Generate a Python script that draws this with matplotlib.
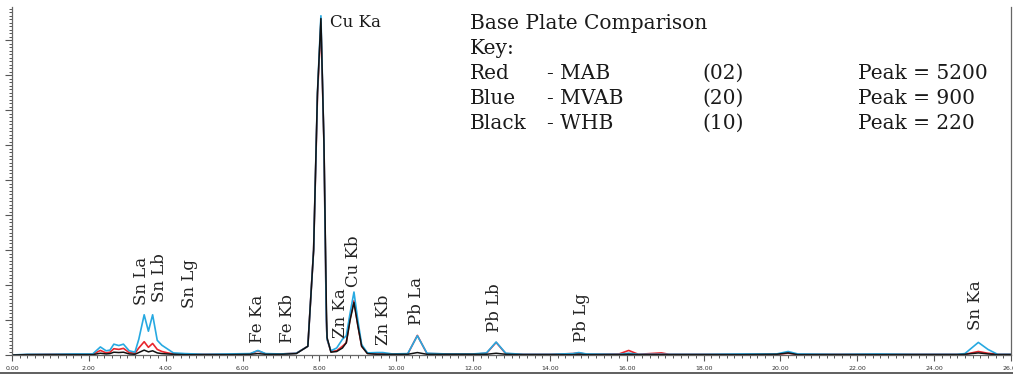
import matplotlib.pyplot as plt
from matplotlib.lines import Line2D
from matplotlib.ticker import MultipleLocator, FormatStrFormatter


OUTPUT_PATH = "out.png"

# energy (keV) sampled where the traces change
energy_kev = [
    0.0, 0.4, 1.0, 1.6, 2.1, 2.3, 2.45, 2.55, 2.65, 2.78, 2.9, 3.05, 3.2, 3.3,
    3.44, 3.55, 3.66, 3.78, 3.9, 4.05, 4.2, 4.5, 5.0, 5.6, 6.2, 6.4, 6.6, 7.0,
    7.4, 7.7, 7.85, 7.95, 8.04, 8.12, 8.18, 8.2, 8.3, 8.45, 8.6, 8.7, 8.8, 8.9,
    9.0, 9.1, 9.25, 9.5, 9.65, 9.9, 10.3, 10.55, 10.8, 11.3, 12.0, 12.35, 12.6,
    12.85, 13.3, 14.0, 14.6, 14.75, 14.95, 15.8, 16.05, 16.3, 16.9, 17.1, 18.0,
    19.0, 19.9, 20.2, 20.45, 21.5, 22.5, 23.5, 24.6, 24.8, 25.15, 25.4, 25.65,
    26.0,
]

# normalised intensities (one unit = one major y tick)
blue_mvab = [
    0.0, 0.02, 0.02, 0.03, 0.03, 0.23, 0.12, 0.14, 0.31, 0.27, 0.31, 0.12, 0.08, 0.45,
    1.15, 0.68, 1.15, 0.42, 0.28, 0.17, 0.06, 0.04, 0.02, 0.03, 0.04, 0.13, 0.04, 0.03,
    0.05, 0.25, 3.0, 7.5, 9.7, 6.0, 1.0, 0.45, 0.12, 0.2, 0.45, 0.55, 1.2, 1.8,
    1.0, 0.3, 0.06, 0.07, 0.07, 0.03, 0.04, 0.55, 0.05, 0.03, 0.03, 0.06, 0.37,
    0.05, 0.02, 0.02, 0.04, 0.07, 0.03, 0.02, 0.05, 0.02, 0.02, 0.02, 0.02,
    0.03, 0.03, 0.1, 0.03, 0.02, 0.03, 0.02, 0.02, 0.04, 0.36, 0.16, 0.02,
    0.02,
]

red_mab = [
    0.0, 0.01, 0.02, 0.02, 0.02, 0.13, 0.06, 0.08, 0.18, 0.16, 0.19, 0.07, 0.05, 0.2,
    0.38, 0.22, 0.33, 0.16, 0.1, 0.06, 0.03, 0.02, 0.02, 0.02, 0.03, 0.12, 0.03, 0.03,
    0.05, 0.25, 3.0, 7.4, 9.5, 6.0, 1.0, 0.45, 0.1, 0.12, 0.25, 0.35, 1.05, 1.55,
    0.85, 0.25, 0.05, 0.03, 0.03, 0.02, 0.03, 0.56, 0.04, 0.03, 0.02, 0.05, 0.36,
    0.04, 0.02, 0.02, 0.04, 0.06, 0.02, 0.03, 0.13, 0.02, 0.06, 0.02, 0.02,
    0.02, 0.02, 0.05, 0.02, 0.02, 0.02, 0.02, 0.02, 0.02, 0.1, 0.05, 0.02,
    0.02,
]

black_whb = [
    0.0, 0.01, 0.01, 0.01, 0.01, 0.05, 0.03, 0.04, 0.08, 0.07, 0.08, 0.03, 0.02, 0.07,
    0.14, 0.09, 0.12, 0.06, 0.04, 0.03, 0.02, 0.01, 0.01, 0.01, 0.02, 0.04, 0.02, 0.02,
    0.04, 0.25, 3.0, 7.5, 9.62, 6.0, 1.5, 0.5, 0.08, 0.1, 0.2, 0.35, 1.0, 1.5,
    0.85, 0.25, 0.04, 0.02, 0.02, 0.02, 0.02, 0.07, 0.02, 0.02, 0.02, 0.02, 0.05,
    0.02, 0.01, 0.01, 0.01, 0.02, 0.01, 0.01, 0.02, 0.01, 0.01, 0.01, 0.01,
    0.01, 0.02, 0.06, 0.01, 0.01, 0.01, 0.01, 0.01, 0.02, 0.06, 0.03, 0.01,
    0.01,
]

# peak labels: text, energy, height of the label's lower end
line_labels = ["Sn La", "Sn Lb", "Sn Lg", "Fe Ka", "Fe Kb", "Zn Ka", "Cu Kb",
               "Zn Kb", "Pb La", "Pb Lb", "Pb Lg", "Sn Ka"]
line_label_x = [3.38, 3.85, 4.63, 6.38, 7.16, 8.56, 8.9, 9.66, 10.52, 12.57, 14.81, 25.07]
line_label_y = [1.43, 1.51, 1.34, 0.34, 0.34, 0.49, 1.94, 0.29, 0.86, 0.66, 0.37, 0.71]

key_title = "Base Plate Comparison"
key_colours = ["Red", "Blue", "Black"]
key_samples = ["- MAB", "- MVAB", "- WHB"]
key_codes = ["(02)", "(20)", "(10)"]
key_peaks = ["Peak = 5200", "Peak = 900", "Peak = 220"]

BLUE = "#27a9e1"
RED = "#e8262d"
BLACK = "#111111"
TEXT_FONT = "DejaVu Serif"


def style_axes(ax):
    ax.set_xlim(0, 26)
    ax.set_ylim(0, 9.95)
    ax.spines["top"].set_visible(False)
    for side in ["left", "bottom", "right"]:
        ax.spines[side].set_color("#666666")
        ax.spines[side].set_linewidth(0.9)

    ax.xaxis.set_major_locator(MultipleLocator(2))
    ax.xaxis.set_minor_locator(MultipleLocator(0.2))
    ax.xaxis.set_major_formatter(FormatStrFormatter("%.2f"))
    ax.yaxis.set_major_locator(MultipleLocator(1))
    ax.yaxis.set_minor_locator(MultipleLocator(0.1))
    ax.set_yticklabels([])

    ax.tick_params(axis="x", which="major", length=4, width=0.8, color="#555555",
                   labelsize=4.5, labelcolor="#333333", pad=4)
    ax.tick_params(axis="x", which="minor", length=2.5, width=0.7, color="#555555")
    ax.tick_params(axis="y", which="major", length=5, width=0.8, color="#555555")
    ax.tick_params(axis="y", which="minor", length=2.5, width=0.7, color="#555555")


def draw_key(ax):
    ax.text(11.92, 9.49, key_title, fontsize=14.5, family=TEXT_FONT,
            color="#1a1a1a", va="center")
    ax.text(11.92, 8.77, "Key:", fontsize=14.5, family=TEXT_FONT,
            color="#1a1a1a", va="center")

    row_y = [8.06, 7.34, 6.63]
    for i in range(len(key_colours)):
        for x, text in zip([11.92, 13.93, 17.96, 22.02],
                           [key_colours[i], key_samples[i], key_codes[i], key_peaks[i]]):
            ax.text(x, row_y[i], text, fontsize=14.5, family=TEXT_FONT,
                    color="#1a1a1a", va="center")


def plot_spectrum():
    fig = plt.figure(figsize=(10.13, 3.74), dpi=100)
    ax = fig.add_axes([12 / 1013, 19 / 374, 999 / 1013, 348 / 374])

    ax.plot(energy_kev, red_mab, color=RED, linewidth=1.2)
    ax.plot(energy_kev, blue_mvab, color=BLUE, linewidth=1.2)
    ax.plot(energy_kev, black_whb, color=BLACK, linewidth=1.1)

    style_axes(ax)

    for text, x, y in zip(line_labels, line_label_x, line_label_y):
        ax.text(x, y, text, rotation=90, fontsize=12, family=TEXT_FONT,
                color="#222222", ha="center", va="bottom")

    ax.text(8.28, 9.51, "Cu Ka", fontsize=12, family=TEXT_FONT,
            color="#1a1a1a", va="center")

    draw_key(ax)

    fig.add_artist(Line2D([0, 1], [0.004, 0.004], color="#444444", linewidth=1.2))

    fig.savefig(OUTPUT_PATH, dpi=100)
    plt.close(fig)


if __name__ == "__main__":
    plot_spectrum()
